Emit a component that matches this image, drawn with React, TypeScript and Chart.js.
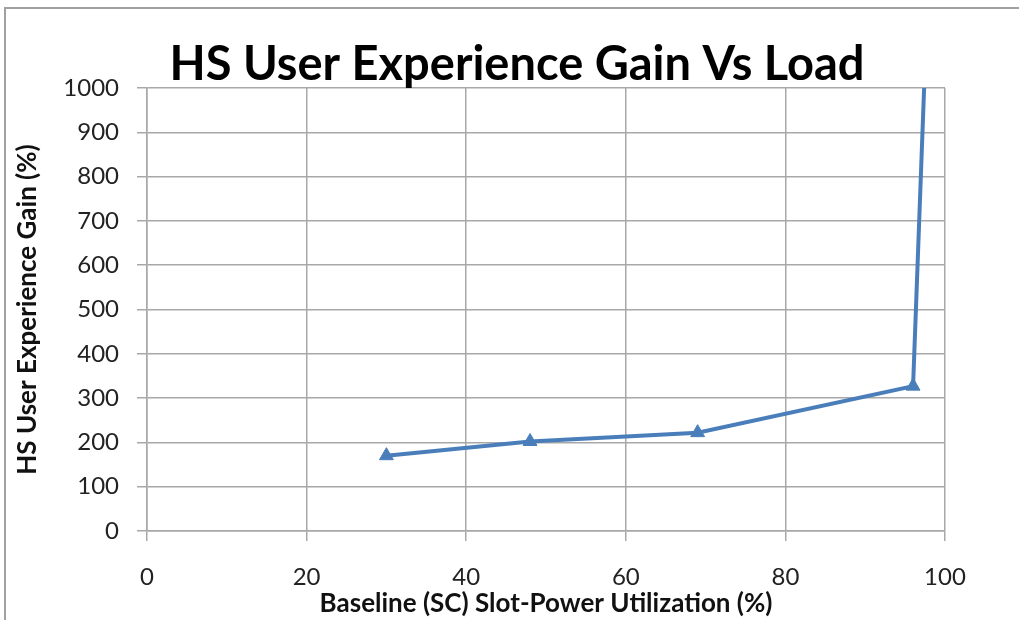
import React, { useEffect, useRef } from "react";
import { Chart, registerables } from "chart.js";

Chart.register(...registerables);

const utilization = [30, 48, 69, 96, 98];
const gain = [170, 202, 222, 327, 1300];
const xTicks = [0, 20, 40, 60, 80, 100];
const yTicks = [0, 100, 200, 300, 400, 500, 600, 700, 800, 900, 1000];
const chartTitle = "HS User Experience Gain Vs Load";

const FONT = "Lato, 'Open Sans', sans-serif";
const GRID = "#a8a8a8";
const BLUE = "#4a7ebb";

const framePlugin = {
  id: "frame",
  beforeDraw(chart: any) {
    const ctx = chart.ctx;
    ctx.save();
    ctx.fillStyle = "#ffffff";
    ctx.fillRect(0, 0, chart.width, chart.height);
    ctx.strokeStyle = "#a0a0a0";
    ctx.lineWidth = 2;
    ctx.beginPath();
    ctx.moveTo(5, chart.height);
    ctx.lineTo(5, 8);
    ctx.lineTo(chart.width, 8);
    ctx.stroke();
    ctx.restore();
  },
  afterDraw(chart: any) {
    const ctx = chart.ctx;
    ctx.save();
    ctx.fillStyle = "#000";
    ctx.font = `bold 47px ${FONT}`;
    ctx.textAlign = "center";
    ctx.textBaseline = "alphabetic";
    ctx.fillText(chartTitle, 517, 80);
    ctx.restore();
  },
};

export default function App() {
  const ref = useRef<HTMLCanvasElement | null>(null);
  useEffect(() => {
    if (!ref.current) return;
    const chart = new Chart(ref.current, {
      type: "line",
      data: {
        datasets: [
          {
            data: utilization.map((x, i) => ({ x, y: gain[i] })),
            borderColor: BLUE,
            backgroundColor: BLUE,
            borderWidth: 4,
            pointStyle: "triangle",
            pointRadius: 8,
            pointBorderWidth: 1,
            tension: 0,
            fill: false,
          },
        ],
      },
      options: {
        responsive: false,
        animation: false,
        layout: { padding: { left: 8, right: 74, top: 88, bottom: 0 } },
        plugins: {
          legend: { display: false },
          tooltip: { enabled: false },
          title: { display: false },
        },
        scales: {
          x: {
            type: "linear",
            min: 0,
            max: 100,
            afterBuildTicks: (s: any) => {
              s.ticks = xTicks.map((v) => ({ value: v }));
            },
            afterFit: (s: any) => {
              s.height = 89;
            },
            ticks: {
              color: "#222",
              font: { family: FONT, size: 24 },
              padding: 22,
              maxRotation: 0,
              callback: (v: any) => String(v),
            },
            grid: { color: GRID, lineWidth: 1.5, tickLength: 10 },
            border: { color: GRID, width: 1.5 },
            title: {
              display: true,
              text: "Baseline (SC) Slot-Power Utilization (%)",
              color: "#111",
              font: { family: FONT, size: 26, weight: "bold" },
              padding: { top: 0, bottom: 1 },
            },
          },
          y: {
            type: "linear",
            min: 0,
            max: 1000,
            afterBuildTicks: (s: any) => {
              s.ticks = yTicks.map((v) => ({ value: v }));
            },
            afterFit: (s: any) => {
              s.width = 139;
            },
            ticks: {
              color: "#222",
              font: { family: FONT, size: 24 },
              padding: 18,
              callback: (v: any) => String(v),
            },
            grid: { color: GRID, lineWidth: 1.5, tickLength: 10 },
            border: { color: GRID, width: 1.5 },
            title: {
              display: true,
              text: "HS User Experience Gain (%)",
              color: "#111",
              font: { family: FONT, size: 26, weight: "bold" },
              padding: { top: 4, bottom: 0 },
            },
          },
        },
      },
      plugins: [framePlugin],
    });
    return () => chart.destroy();
  }, []);
  return (
    <div style={{ position: "fixed", left: 0, top: 0, width: 1019, height: 620 }}>
      <canvas ref={ref} width={1019} height={620} style={{ display: "block" }} />
    </div>
  );
}
